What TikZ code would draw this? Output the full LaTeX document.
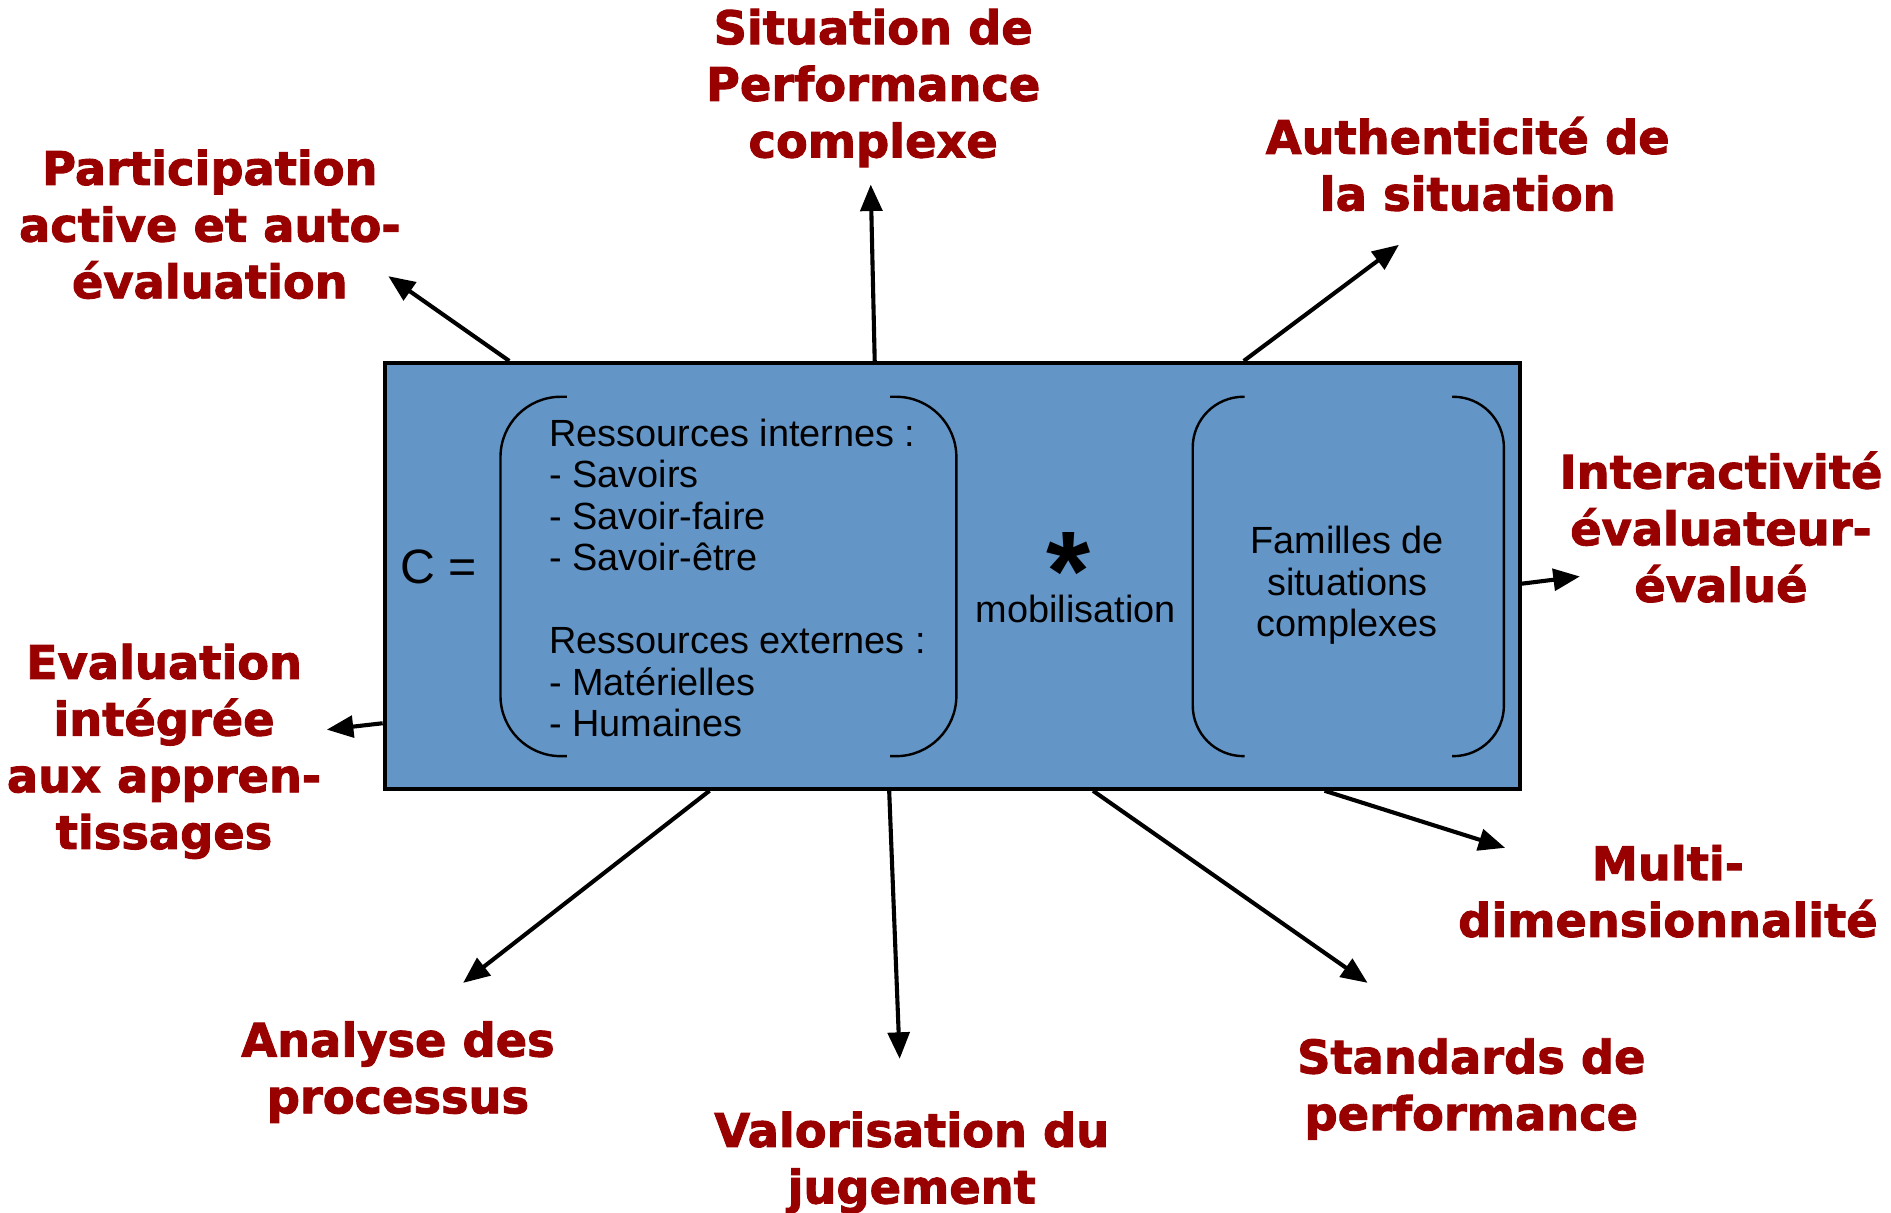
\documentclass[tikz,border=0pt]{standalone}
\usepackage{fontspec}
\setmainfont{Liberation Sans}
\newfontfamily\lblfont[BoldFeatures={FakeBold=2}]{DejaVu Sans}
\usetikzlibrary{arrows.meta}

\definecolor{lblred}{RGB}{153,0,0}
\definecolor{boxblue}{RGB}{99,149,199}

\tikzset{
  lbl/.style={font=\lblfont\bfseries\fontsize{19.2}{23.5}\selectfont,
    text=lblred, align=center, inner sep=0pt},
  body/.style={font=\fontsize{15.7}{17.2}\selectfont, inner sep=0pt},
  arr/.style={-{Triangle[length=11pt,width=9pt]}, line width=1.7pt},
  brk/.style={line width=1pt, rounded corners=25pt},
}

\begin{document}
\begin{tikzpicture}[x=0.5pt,y=-0.5pt]
\useasboundingbox (0,0) rectangle (1568,1005);

% the competence box
\node[draw, line width=1.7pt, fill=boxblue, inner sep=0pt,
  minimum width=470.5pt, minimum height=176.5pt] (comp) at (789.5,477.5) {};

% brackets
\draw[brk] (470,329) -- (415,329) -- (415,627) -- (470,627);
\draw[brk] (738,329) -- (793,329) -- (793,627) -- (738,627);
\draw[brk,rounded corners=21pt] (1032,329) -- (989,329) -- (989,627) -- (1032,627);
\draw[brk,rounded corners=21pt] (1204,329) -- (1247,329) -- (1247,627) -- (1204,627);

\node[body, font=\fontsize{20}{22}\selectfont, anchor=base] (ceq) at (364,484) {C =};
\node[body, anchor=north west, align=left] (res) at (455,347)
  {Ressources internes :\\- Savoirs\\- Savoir-faire\\- Savoir-être\\[17.2pt]%
   Ressources externes :\\- Matérielles\\- Humaines};
\node[body, font=\fontsize{47}{47}\selectfont\bfseries, anchor=north] (star) at (886,441)
  {\raisebox{0pt}[\height][-18pt]{*}};
\node[body, anchor=base] (mob) at (892,516) {mobilisation};
\node[body, anchor=north, align=center] (fam) at (1117,436)
  {Familles de\\situations\\complexes};

% criteria
\node[lbl] (part) at (174,186) {Participation\\active et auto-\\évaluation};
\node[lbl] (sit) at (724,73) {Situation de\\Performance\\complexe};
\node[lbl] (auth) at (1217,136) {Authenticité de\\la situation};
\node[lbl] (inter) at (1427,437) {Interactivité\\évaluateur-\\évalué};
\node[lbl] (multi) at (1383,739) {Multi-\\dimensionnalité};
\node[lbl] (stand) at (1220,903) {Standards de\\performance};
\node[lbl] (valo) at (756,964) {Valorisation du\\jugement};
\node[lbl] (ana) at (330,889) {Analyse des\\processus};
\node[lbl] (integ) at (136,623) {Evaluation\\intégrée\\aux appren-\\tissages};

% arrow tips
\coordinate (tpart) at (322,229);
\coordinate (tsit) at (722,153);
\coordinate (tauth) at (1160,203);
\coordinate (tinter) at (1310,478);
\coordinate (tmulti) at (1248,703);
\coordinate (tstand) at (1134,815);
\coordinate (tvalo) at (746,878);
\coordinate (tana) at (384,815);
\coordinate (tinteg) at (271,605);

\draw[arr] ([xshift=52.5pt]comp.north west) -- (tpart);
\draw[arr] ([xshift=204pt]comp.north west) -- (tsit);
\draw[arr] ([xshift=357pt]comp.north west) -- (tauth);
\draw[arr] ([yshift=-3.25pt]comp.east) -- (tinter);
\draw[arr] ([xshift=390.5pt]comp.south west) -- (tmulti);
\draw[arr] ([xshift=294.5pt]comp.south west) -- (tstand);
\draw[arr] ([xshift=210pt]comp.south west) -- (tvalo);
\draw[arr] ([xshift=135.5pt]comp.south west) -- (tana);
\draw[arr] ([yshift=28pt]comp.south west) -- (tinteg);
\end{tikzpicture}
\end{document}
